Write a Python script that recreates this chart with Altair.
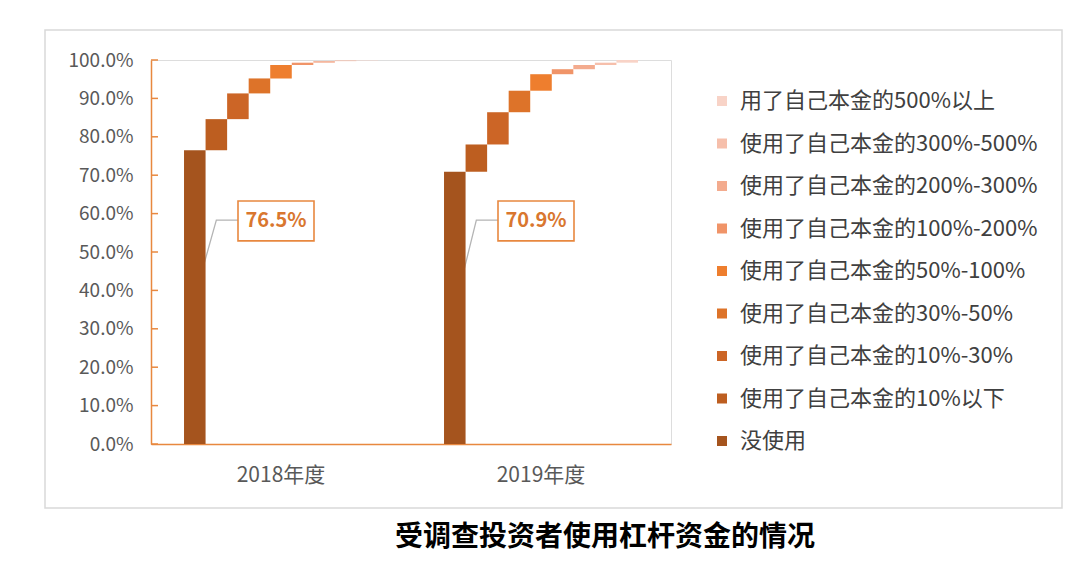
import altair as alt
import pandas as pd

categories = ["没使用", "使用了自己本金的10%以下", "使用了自己本金的10%-30%",
              "使用了自己本金的30%-50%", "使用了自己本金的50%-100%",
              "使用了自己本金的100%-200%", "使用了自己本金的200%-300%",
              "使用了自己本金的300%-500%", "用了自己本金的500%以上"]
colors = ["#A5541E", "#BD5E20", "#CC6526", "#DD7329", "#EE7E2E",
          "#F09468", "#F3AB8E", "#F6BFAB", "#F8D3C7"]
years = ["2018年度", "2019年度"]
v2018 = [76.5, 8.1, 6.7, 3.9, 3.5, 0.6, 0.4, 0.2, 0.1]
v2019 = [70.9, 7.1, 8.4, 5.6, 4.3, 1.3, 1.1, 0.6, 0.7]
y_ticks = [0, 0.1, 0.2, 0.3, 0.4, 0.5, 0.6, 0.7, 0.8, 0.9, 1.0]
title_text = "受调查投资者使用杠杆资金的情况"

ORANGE = "#E8883F"
FONT = "Noto Sans CJK SC"

rows = []
for yr, vals in zip(years, [v2018, v2019]):
    cum = 0.0
    for c, v in zip(categories, vals):
        rows.append({"year": yr, "cat": c, "start": cum / 100, "end": (cum + v) / 100})
        cum += v
df = pd.DataFrame(rows)

# annotation data
lead_y = {"2018年度": 0.383, "2019年度": 0.356}
lead_rows = []
for yr in years:
    lead_rows.append({"year": yr, "cat": categories[0], "y": lead_y[yr], "pt": 0})
    lead_rows.append({"year": yr, "cat": categories[1], "y": 0.583, "pt": 1})
    lead_rows.append({"year": yr, "cat": categories[4], "y": 0.583, "pt": 2})
lead_df = pd.DataFrame(lead_rows)

lab_df = pd.DataFrame({"year": years,
                       "label": [f"{v2018[0]:.1f}%", f"{v2019[0]:.1f}%"],
                       "y": [0.581, 0.581], "y0": [0.633, 0.633], "y1": [0.529, 0.529]})

x_axis = alt.Axis(title=None, labelAngle=0, labelAlign="center", ticks=False,
                  domainColor=ORANGE, domainWidth=1.5, labelFontSize=21,
                  labelColor="#595959", labelPadding=20, labelFont=FONT)
y_axis = alt.Axis(title=None, format=".1%", values=y_ticks, grid=False, ticks=False,
                  labelOverlap=False, domainColor=ORANGE, domainWidth=1.5,
                  labelFontSize=19, labelColor="#595959", labelPadding=18,
                  labelFont=FONT)
x_scale = alt.Scale(paddingInner=0.254, paddingOuter=0.127)
xo_scale = alt.Scale(paddingInner=0, paddingOuter=0)
y_scale = alt.Scale(domain=[0, 1], nice=False)


def X():
    return alt.X("year:N", sort=years, scale=x_scale, axis=x_axis)


def XO():
    return alt.XOffset("cat:N", sort=categories, scale=xo_scale)


def Y(field):
    return alt.Y(field, scale=y_scale, axis=y_axis)


lead = alt.Chart(lead_df).mark_line(color="#B4B4B4", strokeWidth=1.3, xOffset=8.6).encode(
    x=X(), xOffset=XO(), y=Y("y:Q"),
    detail="year:N",
    order=alt.Order("pt:Q"),
)

bars = alt.Chart(df).mark_bar().encode(
    x=X(), xOffset=XO(), y=Y("start:Q"), y2="end:Q",
    color=alt.Color("cat:N",
                    scale=alt.Scale(domain=categories[::-1], range=colors[::-1]),
                    legend=alt.Legend(title=None, orient="none", legendX=560, legendY=30,
                                      symbolType="square", symbolSize=100,
                                      symbolStrokeWidth=0, labelFontSize=22,
                                      labelColor="#404040", labelFont=FONT,
                                      rowPadding=20.5, labelLimit=420, labelOffset=7)),
)

box = alt.Chart(lab_df).mark_bar(width=76, fill="white", stroke=ORANGE, strokeWidth=1.6,
                                 xOffset=-5).encode(
    x=X(), y=Y("y0:Q"), y2="y1:Q",
)

txt = alt.Chart(lab_df).mark_text(fontSize=20, fontWeight="bold", color="#D9772F",
                                  dx=-5, font=FONT).encode(
    x=X(), y=Y("y:Q"), text="label:N",
)

ticks = alt.Chart(pd.DataFrame({"t": y_ticks})).mark_rule(color=ORANGE, strokeWidth=1.5).encode(
    y=Y("t:Q"),
    x=alt.value(0),
    x2=alt.value(7),
)

frame = alt.Chart(pd.DataFrame({"a": [0]})).mark_rect(
    fill="white", fillOpacity=0, stroke="#D9D9D9", strokeWidth=1.5).encode(
    x=alt.value(-106), x2=alt.value(911), y=alt.value(-30), y2=alt.value(448))

title = alt.Chart(pd.DataFrame({"t": [title_text]})).mark_text(
    fontSize=28, fontWeight="bold", color="#000000", font=FONT).encode(
    x=alt.value(454), y=alt.value(478), text="t:N")

chart = alt.layer(frame, lead, bars, box, txt, ticks, title).properties(
    width=520, height=384,
    autosize=alt.AutoSizeParams(type="none"),
    padding={"left": 143, "top": 52, "right": 401, "bottom": 110},
).configure_view(strokeWidth=0).configure(font=FONT)

chart.save("out.html", embed_options={"renderer": "svg", "actions": False})
